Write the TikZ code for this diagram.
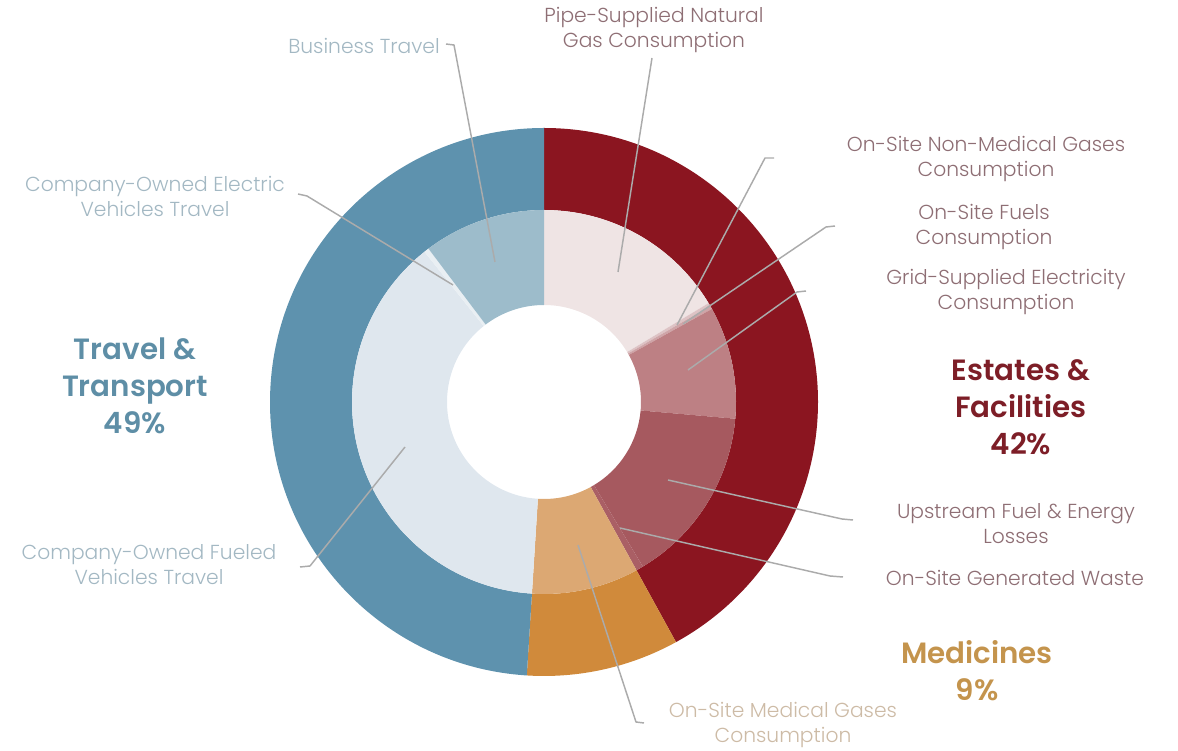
\documentclass[tikz,border=0pt]{standalone}
\usepackage{fontspec}
\setmainfont{Poppins}[UprightFont=* Light, BoldFont=* SemiBold]
\usetikzlibrary{calc}
\definecolor{travelBlue}{HTML}{5E92AE}
\definecolor{estRed}{HTML}{8B1520}
\definecolor{medOrange}{HTML}{D08A3B}
\definecolor{busC}{HTML}{9DBCCB}
\definecolor{fueledC}{HTML}{DFE7EE}
\definecolor{elecC}{HTML}{E9EFF3}
\definecolor{pipeC}{HTML}{EFE4E4}
\definecolor{nonmedC}{HTML}{DDC3C5}
\definecolor{fuelsC}{HTML}{CFA5A8}
\definecolor{gridC}{HTML}{BD8084}
\definecolor{upC}{HTML}{A6595F}
\definecolor{wasteC}{HTML}{AA5F65}
\definecolor{medC}{HTML}{DCA873}
\definecolor{travelTxt}{HTML}{A3B8C3}
\definecolor{estTxt}{HTML}{8E6E74}
\definecolor{medTxt}{HTML}{CDBBA6}
\definecolor{travelBig}{HTML}{5E8EA6}
\definecolor{estBig}{HTML}{7D1E27}
\definecolor{medBig}{HTML}{C4944D}
\definecolor{leadC}{HTML}{ABABAB}
\newcommand{\ringseg}[5]{%
  \fill[#5] ($(c)+({90-#1}:#4)$) arc[start angle={90-#1}, end angle={90-#2}, radius=#4]
    -- ($(c)+({90-#2}:#3)$) arc[start angle={90-#2}, end angle={90-#1}, radius=#3] -- cycle;}
\begin{document}
\begin{tikzpicture}[x=0.75pt,y=0.75pt,
  small/.style={align=center, inner sep=0pt, font=\fontsize{15.2pt}{18.75pt}\selectfont},
  big/.style={align=center, inner sep=0pt, font=\fontsize{22pt}{27.75pt}\selectfont\bfseries},
  leader/.style={draw=leadC, line width=1.1pt, line join=round}]
\useasboundingbox (0,0) rectangle (1178,750);
\coordinate (c) at (544,348);
\def\Ro{205.5pt}\def\Rm{144pt}\def\Ri{72.75pt}
% outer ring
\ringseg{0}{151.2}{\Rm}{\Ro}{estRed}
\ringseg{151.2}{183.6}{\Rm}{\Ro}{medOrange}
\ringseg{183.6}{360}{\Rm}{\Ro}{travelBlue}
% inner ring
\ringseg{0}{59}{\Ri}{\Rm}{pipeC}
\ringseg{59}{60}{\Ri}{\Rm}{nonmedC}
\ringseg{60}{61}{\Ri}{\Rm}{fuelsC}
\ringseg{61}{95}{\Ri}{\Rm}{gridC}
\ringseg{95}{149}{\Ri}{\Rm}{upC}
\ringseg{149}{151.2}{\Ri}{\Rm}{wasteC}
\ringseg{151.2}{183.6}{\Ri}{\Rm}{medC}
\ringseg{183.6}{321.5}{\Ri}{\Rm}{fueledC}
\ringseg{321.5}{323}{\Ri}{\Rm}{elecC}
\ringseg{323}{360}{\Ri}{\Rm}{busC}
% leader coordinates
\coordinate (busA) at (446,706); \coordinate (busB) at (454,705); \coordinate (busE) at (495,488);
\coordinate (eleA) at (298,556); \coordinate (eleB) at (307,554); \coordinate (eleE) at (453,465);
\coordinate (fueA) at (300,183); \coordinate (fueB) at (310,184); \coordinate (fueE) at (405,303);
\coordinate (pipA) at (652,692); \coordinate (pipE) at (618,478);
\coordinate (nmgA) at (774,592); \coordinate (nmgB) at (765,592); \coordinate (nmgE) at (677,425);
\coordinate (oflA) at (835,524); \coordinate (oflB) at (826,523); \coordinate (oflE) at (683,426);
\coordinate (griA) at (806,459); \coordinate (griB) at (797,458); \coordinate (griE) at (688,380);
\coordinate (upsA) at (853,230); \coordinate (upsB) at (842,231); \coordinate (upsE) at (668,270);
\coordinate (wasA) at (843,173); \coordinate (wasB) at (830,174); \coordinate (wasE) at (620,222);
\coordinate (mgsA) at (644,27); \coordinate (mgsB) at (636,28); \coordinate (mgsE) at (578,205);
\draw[leader] (busA) -- (busB) -- (busE);
\draw[leader] (eleA) -- (eleB) -- (eleE);
\draw[leader] (fueA) -- (fueB) -- (fueE);
\draw[leader] (pipA) -- (pipE);
\draw[leader] (nmgA) -- (nmgB) -- (nmgE);
\draw[leader] (oflA) -- (oflB) -- (oflE);
\draw[leader] (griA) -- (griB) -- (griE);
\draw[leader] (upsA) -- (upsB) -- (upsE);
\draw[leader] (wasA) -- (wasB) -- (wasE);
\draw[leader] (mgsA) -- (mgsB) -- (mgsE);
% small labels
\node[small, text=estTxt] (lpipe) at (654,720) {Pipe-Supplied Natural\\Gas Consumption};
\node[small, text=travelTxt] (lbus) at (364,704) {Business Travel};
\node[small, text=travelTxt] (lele) at (155,553.5) {Company-Owned Electric\\Vehicles Travel};
\node[small, text=travelTxt] (lfue) at (149,185) {Company-Owned Fueled\\Vehicles Travel};
\node[small, text=estTxt] (lnmg) at (986,590.5) {On-Site Non-Medical Gases\\Consumption};
\node[small, text=estTxt] (lofl) at (984,523) {On-Site Fuels\\Consumption};
\node[small, text=estTxt] (lgri) at (1006,458) {Grid-Supplied Electricity\\Consumption};
\node[small, text=estTxt] (lups) at (1016,226.5) {Upstream Fuel \& Energy\\Losses};
\node[small, text=estTxt] (lwas) at (1015,172) {On-Site Generated Waste};
\node[small, text=medTxt] (lmgs) at (783,25.5) {On-Site Medical Gases\\Consumption};
% big labels
\node[big, text=travelBig] (btr) at (135,364) {Travel \&\\Transport\\49\%};
\node[big, text=estBig] (best) at (1021,343) {Estates \&\\Facilities\\42\%};
\node[big, text=medBig] (bmed) at (977,79) {Medicines\\9\%};
\end{tikzpicture}
\end{document}
